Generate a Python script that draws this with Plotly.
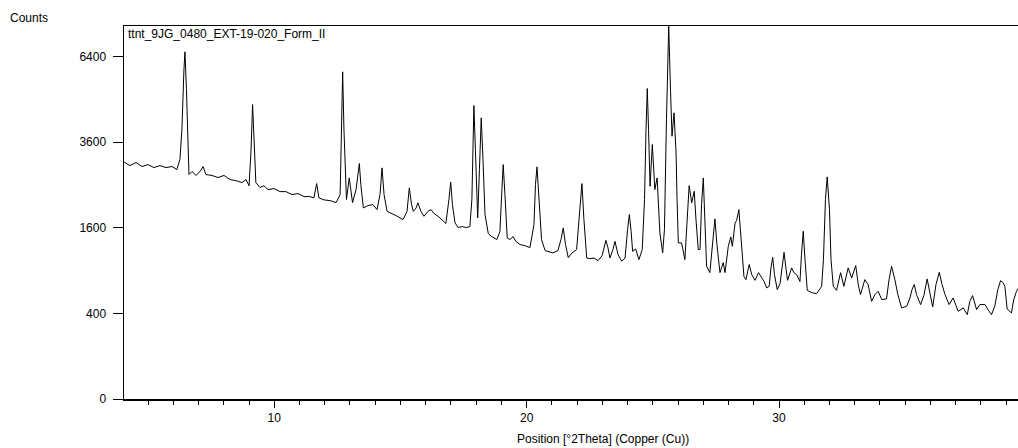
import numpy as np
import plotly.graph_objects as go

two_theta = [
    4.05, 4.28, 4.52, 4.76, 4.99, 5.23, 5.47, 5.71, 5.95, 6.14, 6.26, 6.34, 6.42, 6.46, 6.52, 6.58, 6.62,
    6.74, 6.90, 7.06, 7.18, 7.29, 7.53, 7.77, 8.01, 8.25, 8.48, 8.72, 8.88, 9.00, 9.08, 9.14, 9.22, 9.27,
    9.43, 9.59, 9.75, 9.99, 10.23, 10.46, 10.70, 10.94, 11.18, 11.41, 11.57, 11.68, 11.77, 11.97, 12.21,
    12.45, 12.61, 12.66, 12.71, 12.76, 12.86, 12.97, 13.10, 13.24, 13.37, 13.43, 13.53, 13.71, 13.91,
    14.07, 14.19, 14.27, 14.35, 14.47, 14.66, 14.86, 15.10, 15.26, 15.35, 15.44, 15.51, 15.62, 15.69,
    15.81, 15.93, 16.09, 16.21, 16.33, 16.49, 16.65, 16.80, 16.92, 16.99, 17.06, 17.16, 17.28, 17.44,
    17.60, 17.75, 17.83, 17.87, 17.91, 17.97, 18.06, 18.13, 18.20, 18.27, 18.35, 18.48, 18.62, 18.82,
    18.94, 19.02, 19.07, 19.14, 19.23, 19.34, 19.46, 19.58, 19.74, 19.93, 20.13, 20.29, 20.35, 20.41,
    20.49, 20.59, 20.73, 20.88, 21.04, 21.24, 21.36, 21.45, 21.54, 21.65, 21.80, 21.98, 22.07, 22.15,
    22.19, 22.27, 22.38, 22.51, 22.67, 22.83, 22.99, 23.14, 23.22, 23.30, 23.42, 23.50, 23.62, 23.77,
    23.90, 24.00, 24.07, 24.14, 24.20, 24.32, 24.45, 24.58, 24.67, 24.73, 24.78, 24.83, 24.89, 24.98,
    25.08, 25.17, 25.28, 25.39, 25.46, 25.54, 25.63, 25.70, 25.76, 25.84, 25.92, 25.96, 26.01, 26.14,
    26.27, 26.35, 26.44, 26.54, 26.64, 26.71, 26.80, 26.87, 26.93, 27.00, 27.07, 27.13, 27.26, 27.36,
    27.46, 27.54, 27.66, 27.79, 27.86, 27.99, 28.09, 28.15, 28.26, 28.32, 28.41, 28.47, 28.52, 28.61,
    28.69, 28.82, 28.92, 29.05, 29.19, 29.32, 29.41, 29.51, 29.61, 29.68, 29.75, 29.82, 29.93, 30.04,
    30.14, 30.20, 30.28, 30.34, 30.50, 30.59, 30.70, 30.83, 30.89, 30.96, 31.03, 31.12, 31.30, 31.49,
    31.69, 31.76, 31.84, 31.91, 32.00, 32.06, 32.15, 32.28, 32.44, 32.57, 32.74, 32.88, 33.04, 33.14,
    33.23, 33.40, 33.53, 33.67, 33.80, 33.93, 34.07, 34.26, 34.36, 34.46, 34.59, 34.71, 34.86, 35.06,
    35.19, 35.27, 35.36, 35.45, 35.61, 35.74, 35.87, 35.98, 36.09, 36.22, 36.35, 36.46, 36.58, 36.74,
    36.90, 37.10, 37.30, 37.46, 37.56, 37.67, 37.83, 37.96, 38.16, 38.28, 38.42, 38.55, 38.67, 38.78,
    38.87, 38.95, 39.04, 39.21, 39.30, 39.41, 39.46,
]
counts = [
    3060, 2971, 3049, 2946, 2996, 2921, 2971, 2921, 2946, 2870, 3127, 3960, 5918, 6573, 5223, 3393, 2747,
    2823, 2725, 2823, 2946, 2747, 2725, 2674, 2725, 2624, 2601, 2554, 2624, 2479, 3393, 4728, 3530, 2554,
    2440, 2479, 2391, 2415, 2345, 2345, 2279, 2301, 2234, 2234, 2205, 2530, 2205, 2162, 2146,
    2103, 2279, 4259, 5837, 3960, 2170, 2666, 2104, 2391, 3023, 2507, 1991, 2040, 2060,
    1955, 2279, 2913, 2279, 1920, 1875, 1825, 1756, 1920, 2430, 2060, 1920, 1991, 2097,
    1920, 1821, 1920, 1955, 1875, 1821, 1756, 1680, 2170, 2561, 2060, 1695, 1604, 1620,
    1604, 1620, 2170, 3672, 4696, 3393, 1789, 2870, 4310, 3127, 1855, 1491, 1438, 1387,
    1528, 2391, 2996, 2279, 1415, 1387, 1438, 1351, 1301, 1283, 1250, 1659, 2507, 2938,
    2170, 1387, 1201, 1185, 1164, 1201, 1387, 1596, 1301, 1090, 1164, 1218, 1659, 2279,
    2530, 1756, 1085, 1073, 1085, 1044, 1120, 1373, 1250, 1085, 1218, 1355, 1138, 1034,
    1085, 1564, 1855, 1528, 1189, 1228, 1060, 1218, 2170, 3960, 5257, 3960, 2467, 3530,
    2391, 2666, 1504, 1164, 1564, 4259, 7579, 5223, 3765, 4466, 3304, 2170, 1329, 1329,
    1060, 1659, 2482, 2097, 2354, 1756, 1218, 1218, 2060, 2666, 1659, 960, 871, 1301,
    1769, 1301, 871, 1015, 871, 1271, 1433, 1271, 1690, 1736, 1955, 1564, 1218, 821,
    777, 986, 844, 768, 871, 799, 752, 673, 692, 937, 1095, 844, 652, 725,
    1034, 1173, 913, 768, 937, 871, 844, 752, 1138, 1535, 1060, 644, 616, 605,
    692, 1060, 2170, 2690, 1955, 1060, 692, 644, 871, 692, 937, 799, 970, 714,
    594, 777, 714, 520, 594, 632, 539, 546, 777, 960, 777, 594, 452, 469,
    557, 652, 714, 594, 486, 583, 786, 594, 462, 714, 875, 714, 594, 486,
    557, 419, 452, 388, 520, 583, 436, 486, 486, 436, 388, 469, 652, 764,
    741, 692, 442, 404, 539, 632, 664,
]

y_tick_counts = [0, 400, 1600, 3600, 6400]
x_tick_labels = ["10", "20", "30"]
sample_name = "ttnt_9JG_0480_EXT-19-020_Form_II"

FONT = "Liberation Sans, Arial, sans-serif"

fig = go.Figure()
fig.add_trace(go.Scatter(
    x=two_theta,
    y=np.sqrt(np.array(counts, dtype=float)),
    mode="lines",
    line=dict(color="#000000", width=1),
    hoverinfo="skip",
    showlegend=False,
))

fig.update_layout(
    width=1018, height=448,
    margin=dict(l=124, r=0, t=26, b=49),
    paper_bgcolor="white", plot_bgcolor="white",
    font=dict(family=FONT, size=12, color="#000000"),
    xaxis=dict(
        range=[4.045, 39.47],
        tickmode="array",
        tickvals=[float(t) for t in x_tick_labels],
        ticktext=x_tick_labels,
        ticks="outside", ticklen=7, tickwidth=1, tickcolor="#000000",
        minor=dict(dtick=1, tick0=0, ticks="outside", ticklen=4, tickwidth=1, tickcolor="#000000", showgrid=False),
        showline=True, linecolor="#000000", linewidth=1.5, mirror=True,
        showgrid=False, zeroline=False,
        tickfont=dict(family=FONT, size=12, color="#000000"),
    ),
    yaxis=dict(
        range=[0, 87.1],
        tickmode="array",
        tickvals=[float(np.sqrt(v)) for v in y_tick_counts],
        ticktext=[str(v) for v in y_tick_counts],
        ticks="outside", ticklen=10, tickwidth=1, tickcolor="#000000",
        ticklabelstandoff=4,
        showline=True, linecolor="#000000", linewidth=1.5,
        showgrid=False, zeroline=False,
        tickfont=dict(family=FONT, size=12, color="#000000"),
    ),
    annotations=[
        dict(text="Counts", xref="paper", yref="paper", x=-124 / 894 + 8 / 894, y=1,
             xanchor="left", yanchor="middle", yshift=8, showarrow=False,
             font=dict(family=FONT, size=12, color="#000000")),
        dict(text=sample_name, xref="paper", yref="paper", x=0, y=1,
             xanchor="left", yanchor="top", xshift=2, yshift=1, showarrow=False,
             font=dict(family=FONT, size=12, color="#000000")),
        dict(text="Position [°2Theta] (Copper (Cu))", xref="paper", yref="paper",
             x=(602.5 - 124) / 894, y=0, xanchor="center", yanchor="middle",
             yshift=-40, showarrow=False,
             font=dict(family=FONT, size=12, color="#000000")),
    ],
)

fig.write_html(
    "out.html",
    config={"displayModeBar": False, "staticPlot": True},
    post_script="document.body.style.margin='0';document.body.style.padding='0';document.body.style.overflow='hidden';",
)
